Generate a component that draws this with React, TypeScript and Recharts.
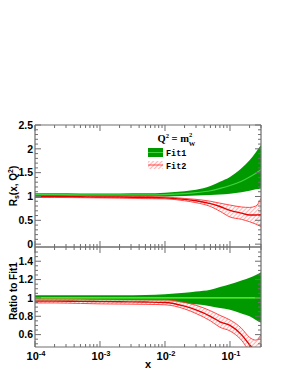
import { Area, ComposedChart, Line, XAxis, YAxis } from "recharts";

const xs = [1e-4, 2e-4, 5e-4, 1e-3, 2e-3, 5e-3, 1e-2, 2e-2, 3e-2, 5e-2, 7e-2, 0.1, 0.15, 0.2, 0.25, 0.3];

// top panel: R_s(x, Q^2)
const fit1Central = [1.04, 1.04, 1.035, 1.035, 1.035, 1.035, 1.04, 1.06, 1.08, 1.12, 1.17, 1.23, 1.32, 1.41, 1.49, 1.56];
const fit1Up = [1.07, 1.07, 1.065, 1.065, 1.065, 1.068, 1.08, 1.11, 1.14, 1.22, 1.31, 1.41, 1.59, 1.76, 1.93, 2.08];
const fit1Down = [1.01, 1.01, 1.005, 1.005, 1.005, 1.003, 1.0, 1.01, 1.02, 1.03, 1.04, 1.06, 1.09, 1.12, 1.15, 1.17];
const fit2Central = [1.0, 1.0, 0.995, 0.99, 0.99, 0.98, 0.97, 0.94, 0.91, 0.85, 0.79, 0.71, 0.65, 0.61, 0.61, 0.62];
const fit2Up = [1.02, 1.02, 1.015, 1.01, 1.01, 1.0, 0.99, 0.96, 0.94, 0.9, 0.86, 0.82, 0.78, 0.77, 0.8, 0.96];
const fit2Down = [0.98, 0.98, 0.975, 0.97, 0.965, 0.955, 0.95, 0.91, 0.87, 0.79, 0.69, 0.57, 0.52, 0.47, 0.42, 0.37];

// bottom panel: ratio to Fit1
const ratio1Central = [1, 1, 1, 1, 1, 1, 1, 1, 1, 1, 1, 1, 1, 1, 1, 1];
const ratio1Up = [1.03, 1.03, 1.03, 1.03, 1.03, 1.032, 1.04, 1.055, 1.07, 1.09, 1.12, 1.15, 1.19, 1.22, 1.25, 1.28];
const ratio1Down = [0.97, 0.97, 0.97, 0.97, 0.97, 0.968, 0.96, 0.945, 0.93, 0.91, 0.89, 0.87, 0.83, 0.8, 0.76, 0.73];
const ratio2Central = [0.965, 0.965, 0.962, 0.96, 0.958, 0.955, 0.95, 0.91, 0.87, 0.8, 0.74, 0.7, 0.6, 0.49, 0.42, 0.38];
const ratio2Up = [0.99, 0.99, 0.988, 0.985, 0.983, 0.98, 0.98, 0.95, 0.92, 0.86, 0.81, 0.76, 0.67, 0.57, 0.54, 0.6];
const ratio2Down = [0.945, 0.945, 0.94, 0.935, 0.933, 0.93, 0.925, 0.88, 0.83, 0.75, 0.68, 0.64, 0.54, 0.42, 0.36, 0.3];

const xTicks = [-4, -3, -2, -1]
  .flatMap((d) => [1, 2, 3, 4, 5, 6, 7, 8, 9].map((m) => Number((m * 10 ** d).toPrecision(3))))
  .filter((v) => v <= 0.3);
const topYTicks = Array.from({ length: 26 }, (_, i) => Number((i * 0.1).toFixed(2)));
const bottomYTicks = Array.from({ length: 21 }, (_, i) => Number((0.5 + i * 0.05).toFixed(2)));

const AXIS = "#6e6e6e";
const GREEN = "#009a00";
const RED = "#ff2020";
const SANS = "'Liberation Sans', Arial, sans-serif";
const MONO = "'Liberation Mono', 'Courier New', monospace";

const topData = xs.map((x, i) => ({
  x,
  f1: fit1Central[i],
  f1Band: [fit1Down[i], fit1Up[i]],
  f2: fit2Central[i],
  f2Band: [fit2Down[i], fit2Up[i]],
}));

const bottomData = xs.map((x, i) => ({
  x,
  f1: ratio1Central[i],
  f1Band: [ratio1Down[i], ratio1Up[i]],
  f2: ratio2Central[i],
  f2Band: [ratio2Down[i], ratio2Up[i]],
}));

function XTick(props: any) {
  const { x, y, payload, side, labels } = props;
  const e = Math.log10(payload.value);
  const major = Math.abs(e - Math.round(e)) < 1e-6;
  const len = major ? 6 : 3;
  const dir = side === "bottom" ? -1 : 1;
  return (
    <g>
      <line x1={x} y1={y} x2={x} y2={y + dir * len} stroke={AXIS} strokeWidth={1} />
      {labels && major && (
        <text x={x + 1} y={y + 13} textAnchor="middle" fontFamily={SANS} fontWeight="bold" fontSize={11} fill="#000">
          10
          <tspan dy={-4.5} fontSize={7.5}>
            {Math.round(e)}
          </tspan>
        </text>
      )}
    </g>
  );
}

function YTick(props: any) {
  const { x, y, payload, side, labels, step } = props;
  const v = payload.value;
  const major = Math.abs(v / step - Math.round(v / step)) < 1e-6;
  const len = major ? 6 : 3;
  const dir = side === "left" ? 1 : -1;
  return (
    <g>
      <line x1={x} y1={y} x2={x + dir * len} y2={y} stroke={AXIS} strokeWidth={1} />
      {labels && major && (
        <text x={x - 2} y={y + 3.8} textAnchor="end" fontFamily={SANS} fontWeight="bold" fontSize={10.5} fill="#000">
          {String(Number(v.toFixed(2)))}
        </text>
      )}
    </g>
  );
}

function Panel({
  data,
  yDomain,
  yTicks,
  yStep,
  width,
  height,
  margin,
  topH,
  bottomH,
  xLabels,
  f1Color,
}: any) {
  return (
    <ComposedChart width={width} height={height} data={data} margin={margin}>
      <XAxis
        dataKey="x"
        type="number"
        scale="log"
        domain={[1e-4, 0.3]}
        ticks={xTicks}
        interval={0}
        height={bottomH}
        tickSize={0}
        tickMargin={0}
        tickLine={false}
        axisLine={{ stroke: AXIS, strokeWidth: 1.2 }}
        tick={(p: any) => <XTick {...p} side="bottom" labels={xLabels} />}
        allowDataOverflow
      />
      <XAxis
        xAxisId="top"
        orientation="top"
        dataKey="x"
        type="number"
        scale="log"
        domain={[1e-4, 0.3]}
        ticks={xTicks}
        interval={0}
        height={topH}
        tickSize={0}
        tickMargin={0}
        tickLine={false}
        axisLine={{ stroke: AXIS, strokeWidth: 1.2 }}
        tick={(p: any) => <XTick {...p} side="top" />}
        allowDataOverflow
      />
      <YAxis
        type="number"
        domain={yDomain}
        ticks={yTicks}
        interval={0}
        width={35}
        tickSize={0}
        tickMargin={0}
        tickLine={false}
        axisLine={{ stroke: AXIS, strokeWidth: 1.2 }}
        tick={(p: any) => <YTick {...p} side="left" labels step={yStep} />}
        allowDataOverflow
      />
      <YAxis
        yAxisId="r"
        orientation="right"
        type="number"
        domain={yDomain}
        ticks={yTicks}
        interval={0}
        width={37}
        tickSize={0}
        tickMargin={0}
        tickLine={false}
        axisLine={{ stroke: AXIS, strokeWidth: 1.2 }}
        tick={(p: any) => <YTick {...p} side="right" step={yStep} />}
        allowDataOverflow
      />
      <Area
        type="monotone"
        dataKey="f1Band"
        fill={GREEN}
        fillOpacity={1}
        stroke="none"
        isAnimationActive={false}
      />
      <Line
        type="monotone"
        dataKey="f1"
        stroke={f1Color}
        strokeWidth={1.2}
        dot={false}
        isAnimationActive={false}
      />
      <Area
        type="monotone"
        dataKey="f2Band"
        fill="url(#hatch)"
        fillOpacity={1}
        stroke={RED}
        strokeWidth={0.8}
        isAnimationActive={false}
      />
      <Line
        type="monotone"
        dataKey="f2"
        stroke="#e00000"
        strokeWidth={1.4}
        dot={false}
        isAnimationActive={false}
      />
    </ComposedChart>
  );
}

export default function App() {
  return (
    <div
      style={{
        position: "absolute",
        left: 0,
        top: 0,
        width: 298,
        height: 385,
        background: "#fff",
        overflow: "hidden",
      }}
    >
      <svg width={0} height={0} style={{ position: "absolute" }}>
        <defs>
          <pattern id="hatch" width={3} height={3} patternUnits="userSpaceOnUse" patternTransform="rotate(45)">
            <rect width={3} height={3} fill="#fff5f5" fillOpacity={0.6} />
            <line x1={0} y1={0} x2={0} y2={3} stroke="#ff7070" strokeWidth={1} />
          </pattern>
        </defs>
      </svg>
      <div style={{ position: "absolute", left: 0, top: 0 }}>
        <Panel
          data={topData}
          yDomain={[-0.06, 2.5]}
          yTicks={topYTicks}
          yStep={0.5}
          width={298}
          height={250}
          margin={{ top: 105, right: 0, bottom: 0, left: 0 }}
          topH={20}
          bottomH={3}
          xLabels={false}
          f1Color="#3fd43f"
        />
      </div>
      <div style={{ position: "absolute", left: 0, top: 245 }}>
        <Panel
          data={bottomData}
          yDomain={[0.465, 1.555]}
          yTicks={bottomYTicks}
          yStep={0.2}
          width={298}
          height={140}
          margin={{ top: 0, right: 0, bottom: 0, left: 0 }}
          topH={2}
          bottomH={38}
          xLabels
          f1Color="#66ff33"
        />
      </div>
      <svg
        width={298}
        height={385}
        style={{ position: "absolute", left: 0, top: 0, pointerEvents: "none" }}
      >
        <text
          x={16.5}
          y={186}
          transform="rotate(-90 16.5 186)"
          textAnchor="middle"
          fontFamily={SANS}
          fontWeight="bold"
          fontSize={10}
        >
          R
          <tspan fontSize={7} dy={2}>s</tspan>
          <tspan dy={-2}>(x, Q</tspan>
          <tspan fontSize={7} dy={-4}>2</tspan>
          <tspan dy={4}>)</tspan>
        </text>
        <text
          x={16.5}
          y={291}
          transform="rotate(-90 16.5 291)"
          textAnchor="middle"
          fontFamily={SANS}
          fontWeight="bold"
          fontSize={10}
        >
          Ratio to Fit1
        </text>
        <text x={148} y={368} textAnchor="middle" fontFamily={SANS} fontWeight="bold" fontSize={11}>
          x
        </text>

        <text
          x={157.5}
          y={142}
          fontFamily="'Liberation Serif', 'Times New Roman', serif"
          fontWeight="bold"
          fontSize={10.5}
        >
          Q
          <tspan dy={-4.5} fontSize={6.5}>2</tspan>
          <tspan dy={4.5}> = m</tspan>
          <tspan dy={-5} fontSize={6.5}>2</tspan>
          <tspan dx={-3.3} dy={8.5} fontSize={6.5}>W</tspan>
        </text>

        <rect x={148} y={148} width={15} height={9} fill={GREEN} />
        <line x1={148} y1={152.5} x2={163} y2={152.5} stroke="#3fd43f" strokeWidth={1} />
        <text x={166} y={155.5} fontFamily={MONO} fontWeight="bold" fontSize={8.5}>
          Fit1
        </text>
        <rect x={148} y={161} width={15} height={8} fill="url(#hatch)" />
        <line x1={148} y1={165} x2={163} y2={165} stroke={RED} strokeWidth={0.8} />
        <text x={166} y={168.5} fontFamily={MONO} fontWeight="bold" fontSize={8.5}>
          Fit2
        </text>
      </svg>
    </div>
  );
}
